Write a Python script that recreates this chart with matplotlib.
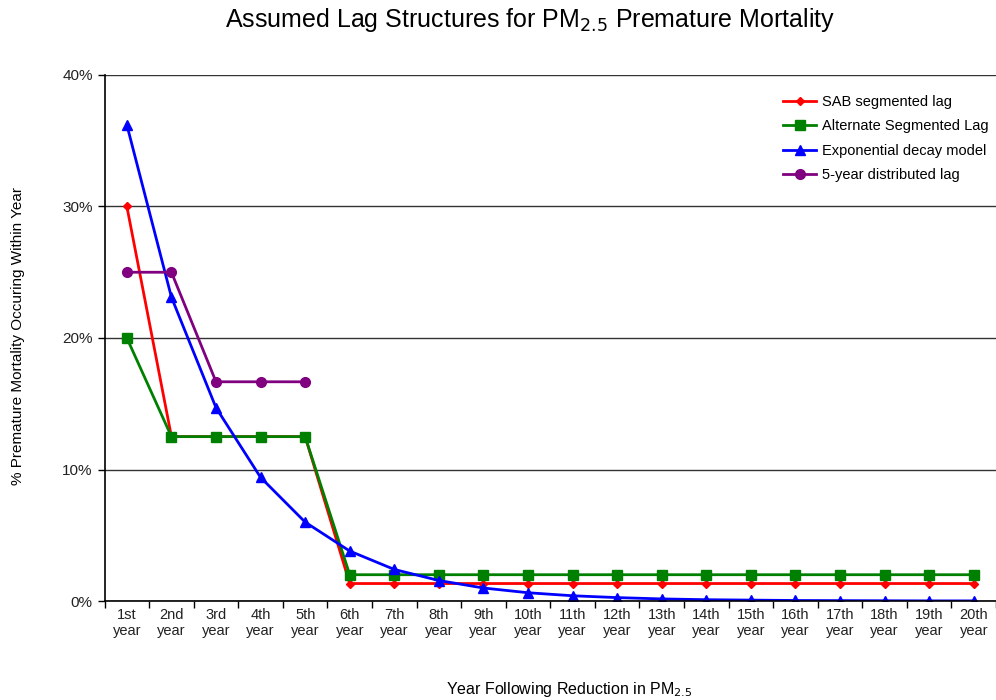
import matplotlib.pyplot as plt
from matplotlib.ticker import FixedLocator, PercentFormatter

plt.rcParams['font.family'] = ['Liberation Sans', 'DejaVu Sans']

years = ['1st', '2nd', '3rd', '4th', '5th', '6th', '7th', '8th', '9th', '10th',
         '11th', '12th', '13th', '14th', '15th', '16th', '17th', '18th', '19th', '20th']

# percent of premature mortality occurring within each year
sab_lag = [30, 12.5, 12.5, 12.5, 12.5] + [1.33] * 15
alt_lag = [20, 12.5, 12.5, 12.5, 12.5] + [2.0] * 15
exp_decay = [36.2, 23.1, 14.7, 9.4, 6.0, 3.8, 2.4, 1.56, 0.99, 0.63,
             0.40, 0.26, 0.16, 0.10, 0.07, 0.04, 0.03, 0.02, 0.01, 0.01]
dist_lag = [25, 25, 16.67, 16.67, 16.67]

fig = plt.figure(figsize=(9.96, 7.0), dpi=100)
ax = fig.add_axes([0.105, 0.1414, 0.895, 0.7515])

x = list(range(len(years)))
ax.plot(x, sab_lag, '-D', color='#ff0000', lw=2, ms=4.5, label='SAB segmented lag')
ax.plot(x, alt_lag, '-s', color='#008000', lw=2, ms=6.5, label='Alternate Segmented Lag')
ax.plot(x, exp_decay, '-^', color='#0000ff', lw=2, ms=7, label='Exponential decay model')
ax.plot(x[:len(dist_lag)], dist_lag, '-o', color='#800080', lw=2, ms=7,
        label='5-year distributed lag')

ax.set_xlim(-0.5, len(years) - 0.5)
ax.set_ylim(0, 40)
ax.set_yticks([0, 10, 20, 30, 40])
ax.yaxis.set_major_formatter(PercentFormatter(decimals=0))
ax.yaxis.grid(True, color='#333333', lw=1)
ax.set_axisbelow(True)

# category labels centred, tick marks between categories
ax.set_xticks(x)
ax.set_xticklabels([y + '\nyear' for y in years], fontsize=10.5, color='#222222',
                   linespacing=1.15)
ax.tick_params(axis='x', which='major', length=0, pad=5)
ax.xaxis.set_minor_locator(FixedLocator([i - 0.5 for i in range(len(years) + 1)]))
ax.tick_params(axis='x', which='minor', length=5, width=1)
ax.tick_params(axis='y', length=5, width=1, labelsize=11, labelcolor='#222222')

for side in ['top', 'right']:
    ax.spines[side].set_visible(False)
ax.spines['left'].set_linewidth(1.2)
ax.spines['bottom'].set_linewidth(1.2)

ax.legend(loc='upper right', bbox_to_anchor=(1.006, 0.987), frameon=False,
          fontsize=10.5, handlelength=2.3, labelspacing=0.72, handletextpad=0.35)

fig.text(0.532, 0.972, 'Assumed Lag Structures for PM$_{2.5}$ Premature Mortality',
         ha='center', va='center', fontsize=18)
fig.text(0.018, 0.52, '% Premature Mortality Occuring Within Year', rotation=90,
         ha='center', va='center', fontsize=11)
fig.text(0.572, 0.015, 'Year Following Reduction in PM$_{2.5}$', ha='center',
         va='center', fontsize=11.5)

fig.savefig('out.png', dpi=100)
